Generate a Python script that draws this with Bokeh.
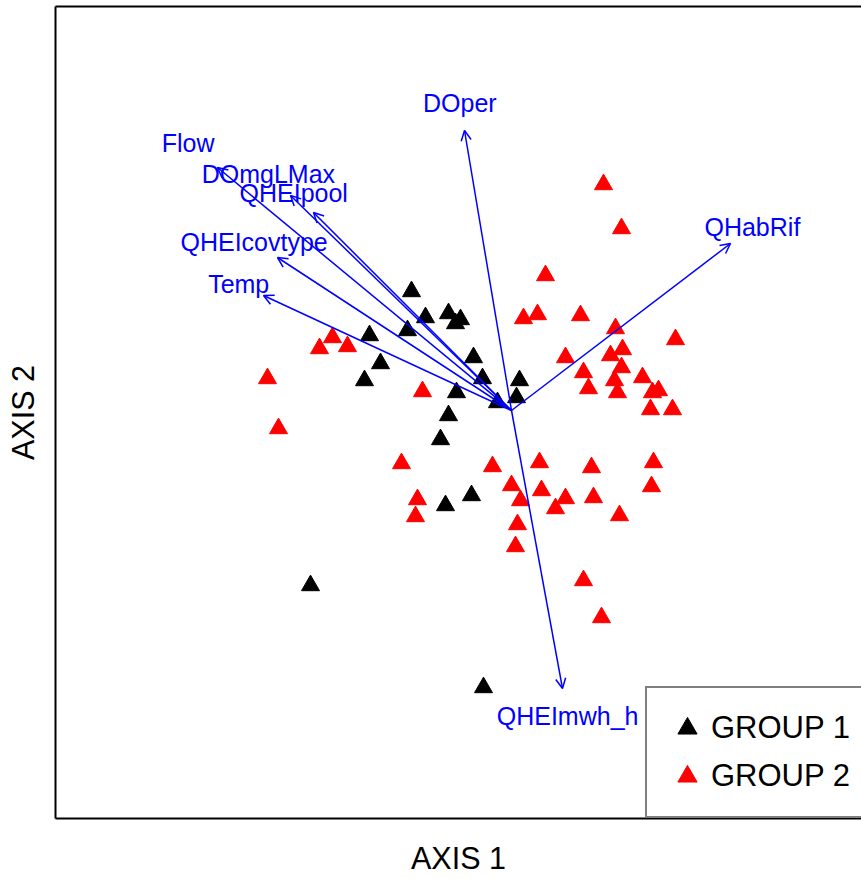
from bokeh.plotting import figure
from bokeh.models import (Range1d, LinearAxis, FixedTicker, Arrow, OpenHead,
                          ColumnDataSource, Legend, LegendItem)
from bokeh.core.properties import value
from bokeh.embed import file_html
from bokeh.resources import INLINE

# ---- data (ordination scores) ----
g1_x = [-0.50, -0.43, -0.315, -0.255, -0.28, -0.52, -0.71, -0.655, -0.735, -0.19,
        -0.145, -0.275, -0.07, 0.04, 0.025, -0.315, -0.355, -0.20, -0.33, -1.005, -0.14]
g1_y = [0.595, 0.465, 0.485, 0.455, 0.435, 0.40, 0.375, 0.235, 0.15, 0.265,
        0.16, 0.09, 0.04, 0.15, 0.065, -0.025, -0.145, -0.425, -0.475, -0.875, -1.385]

g2_x = [0.46, 0.55, 0.17, 0.06, 0.13, 0.345, 0.52, 0.82, 0.27, 0.495,
        0.555, 0.55, 0.515, 0.53, 0.36, 0.385, 0.655, 0.705, 0.735, 0.695,
        0.805, 0.71, 0.70, 0.40, 0.41, 0.54, 0.14, 0.15, 0.27, 0.22,
        0.0, 0.045, 0.03, 0.02, -0.095, -0.55, -0.47, -0.48, -0.445, -0.895,
        -0.96, -0.82, -1.22, -1.165, 0.36, 0.45]
g2_y = [1.13, 0.91, 0.675, 0.46, 0.48, 0.475, 0.41, 0.355, 0.265, 0.275,
        0.305, 0.215, 0.15, 0.09, 0.19, 0.11, 0.165, 0.09, 0.10, 0.005,
        0.005, -0.26, -0.38, -0.285, -0.435, -0.525, -0.26, -0.40, -0.44, -0.49,
        -0.375, -0.45, -0.57, -0.68, -0.28, -0.265, -0.445, -0.53, 0.095, 0.365,
        0.31, 0.32, 0.16, -0.09, -0.85, -1.035]

vec_names = ["Flow", "DOmgLMax", "QHEIpool", "QHEIcovtype", "Temp",
             "DOper", "QHabRif", "QHEImwh_h"]
vec_x = [-1.47, -1.105, -0.99, -1.17, -1.24, -0.235, 1.095, 0.255]
vec_y = [1.215, 1.075, 0.99, 0.765, 0.575, 1.40, 0.835, -1.39]

group_labels = ["GROUP 1", "GROUP 2"]
axis_titles = ["AXIS 1", "AXIS 2"]

FONT = "Liberation Sans"
LABEL_MULT = 1.1

p = figure(width=861, height=878, output_backend="svg", toolbar_location=None,
           x_range=Range1d(-2.28, 1.75), y_range=Range1d(-2.04, 2.02),
           min_border_left=55, min_border_right=0, min_border_top=6,
           min_border_bottom=60)
p.outline_line_color = None
p.grid.visible = False
p.background_fill_color = "white"


def style_axis(ax, label=None, standoff=0):
    ax.ticker = FixedTicker(ticks=[])
    ax.major_tick_line_color = None
    ax.minor_tick_line_color = None
    ax.major_tick_out = 0
    ax.major_tick_in = 0
    ax.minor_tick_out = 0
    ax.minor_tick_in = 0
    ax.major_label_text_font_size = "0px"
    ax.major_label_standoff = 0
    ax.axis_line_width = 2
    ax.axis_line_color = "black"
    if label is not None:
        ax.axis_label = label
        ax.axis_label_text_font = FONT
        ax.axis_label_text_font_size = "30.5px"
        ax.axis_label_text_font_style = "normal"
        ax.axis_label_text_color = "black"
        ax.axis_label_text_line_height = 1.0
        ax.axis_label_standoff = standoff


style_axis(p.xaxis[0], axis_titles[0], 22)
style_axis(p.yaxis[0], axis_titles[1], 16)
top = LinearAxis()
style_axis(top)
p.add_layout(top, "above")

r1 = p.scatter(g1_x, g1_y, marker="triangle", size=18,
               fill_color="black", line_color="black")
r2 = p.scatter(g2_x, g2_y, marker="triangle", size=18,
               fill_color="red", line_color="red")

vsrc = ColumnDataSource(dict(
    x0=[0.0] * len(vec_x), y0=[0.0] * len(vec_y), x1=vec_x, y1=vec_y,
    lx=[v * LABEL_MULT for v in vec_x], ly=[v * LABEL_MULT for v in vec_y],
    name=vec_names))

p.add_layout(Arrow(source=vsrc, x_start="x0", y_start="y0", x_end="x1", y_end="y1",
                   line_color="blue", line_width=1.5,
                   end=OpenHead(size=10, line_color="blue", line_width=1.5)))

p.text(x="lx", y="ly", text="name", source=vsrc, text_color="blue",
       text_font=value(FONT), text_font_size="25px",
       text_align="center", text_baseline="middle")

legend = Legend(items=[LegendItem(label=group_labels[0], renderers=[r1]),
                       LegendItem(label=group_labels[1], renderers=[r2])],
                location=(590, 0), margin=0, padding=16, spacing=0,
                glyph_width=48, glyph_height=48, label_height=48,
                label_width=250, label_standoff=0,
                label_text_font=FONT, label_text_font_size="31px",
                label_text_color="black",
                label_text_baseline="middle",
                border_line_color="black", border_line_width=2,
                background_fill_color="white", background_fill_alpha=1.0)
p.add_layout(legend)

open("out.html", "w").write(file_html(p, INLINE))
